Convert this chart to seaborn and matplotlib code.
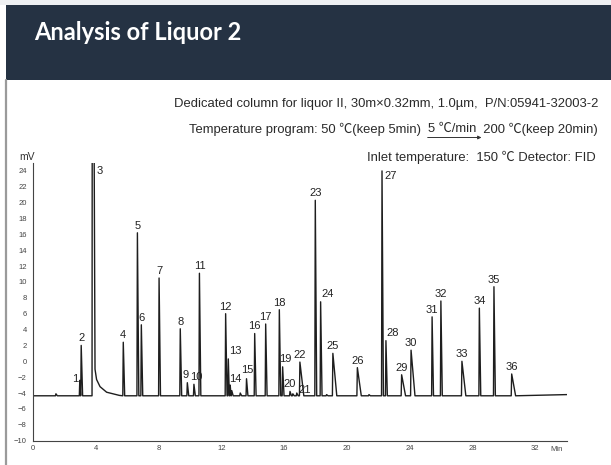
import numpy as np
import pandas as pd
import matplotlib
matplotlib.use("Agg")
import matplotlib.pyplot as plt
import seaborn as sns
from matplotlib.patches import Rectangle, FancyArrowPatch
from matplotlib.lines import Line2D

# ------------------------------------------------------------
# peak table (min, mV)
# ------------------------------------------------------------
peak_id = list(range(1, 37))
peak_time = [2.98, 3.07, 3.79, 5.75, 6.65, 6.90, 8.03, 9.38, 9.83, 10.25,
             10.60, 12.27, 12.44, 12.56, 13.60, 14.12, 14.82, 15.69, 15.90, 16.37,
             16.80, 17.00, 17.98, 18.32, 19.10, 20.66, 22.23, 22.48, 23.48, 24.08,
             25.42, 25.98, 27.32, 28.43, 29.36, 30.49]
peak_mv = [-2.4, 2.0, 80.0, 2.4, 16.2, 4.6, 10.5, 4.1, -2.7, -2.9,
           11.1, 6.0, 0.3, -3.0, -2.2, 3.5, 4.7, 6.5, -0.7, -3.8,
           -4.0, -0.1, 20.3, 7.5, 1.0, -0.8, 24.0, 2.6, -1.7, 1.4,
           5.6, 7.6, 0.0, 6.7, 9.4, -1.6]

# small unlabelled bumps
minor_time = [1.46, 12.66, 13.20, 16.55, 18.70, 21.40]
minor_mv = [-4.1, -3.7, -4.0, -4.1, -4.2, -4.2]

# solvent peak (3) tail
tail_time = [3.95, 4.05, 4.27, 4.69, 5.50]
tail_mv = [-1.0, -2.3, -3.2, -3.9, -4.3]

baseline_mv = -4.35
end_time, end_mv = 34.0, -4.2
broad_peaks = [22, 25, 26, 29, 30, 33, 36]

x_ticks = [0, 4, 8, 12, 16, 20, 24, 28, 32]
y_ticks = list(range(-10, 25, 2))

title = "Analysis of Liquor 2"
line1 = "Dedicated column for liquor II, 30m\u00d70.32mm, 1.0\u00b5m,  P/N:05941-32003-2"
line2_parts = ["Temperature program: 50 \u2103(keep 5min)  ", "5 \u2103/min", "  200 \u2103(keep 20min)"]
line3 = "Inlet temperature:  150 \u2103 Detector: FID"

# ------------------------------------------------------------
# assemble trace vertices from the peak table
# ------------------------------------------------------------
peaks = [(t, h, str(i)) for i, t, h in zip(peak_id, peak_time, peak_mv)]
peaks += [(t, h, "") for t, h in zip(minor_time, minor_mv)]
peaks.sort(key=lambda p: p[0])

pts = [(0.0, baseline_mv)]
for k, (t, h, name) in enumerate(peaks):
    lw = 0.03
    rw = 0.25 if name and int(name) in broad_peaks else 0.09
    if k + 1 < len(peaks):
        gap = peaks[k + 1][0] - t
        rw = min(rw, gap * 0.55)
    left = max(t - lw, pts[-1][0] + 0.005)
    pts.append((left, baseline_mv if left - pts[-1][0] > 0.01 else pts[-1][1]))
    pts.append((t, h))
    if name == "3":
        pts += list(zip(tail_time, tail_mv))
    else:
        pts.append((t + rw, baseline_mv))
pts.append((end_time, end_mv))

trace = pd.DataFrame(pts, columns=["time", "mV"])

# ------------------------------------------------------------
# figure
# ------------------------------------------------------------
sns.set_theme(style="white")
plt.rcParams["font.family"] = ["Liberation Sans", "Noto Sans CJK SC", "DejaVu Sans"]

W, H = 611, 465
fig = plt.figure(figsize=(W / 100, H / 100), dpi=100)
fig.patch.set_facecolor("white")

# header band and card edge
fig.patches.append(Rectangle((6 / W, 1 - 80 / H), 1, 75 / H, transform=fig.transFigure,
                             facecolor="#253243", edgecolor="none", zorder=0))
fig.patches.append(Rectangle((0, 1 - 5 / H), 1, 5 / H, transform=fig.transFigure,
                             facecolor="#eef0f2", edgecolor="none", zorder=0))
fig.add_artist(Line2D([5.5 / W, 5.5 / W], [0, 1 - 80 / H], transform=fig.transFigure,
                      color="#9a9a9a", lw=1.6))
fig.text(34 / W, 1 - 33 / H, title, color="white", fontsize=17, fontweight="bold",
         family=["Lato", "DejaVu Sans"], ha="left", va="center")

ax = fig.add_axes([33 / W, 1 - 440.6 / H, 533.8 / W, 277.6 / H])
sns.lineplot(data=trace, x="time", y="mV", sort=False, estimator=None,
             color="#1e1e1e", lw=1.0, ax=ax)

ax.set_xlim(0, 34)
ax.set_ylim(-10, 25)
ax.set_xticks(x_ticks)
ax.set_xticks(np.arange(2, 34, 4), minor=True)
ax.set_yticks(y_ticks)
ax.set_yticks(np.arange(-9, 25, 2), minor=True)
ax.set_xlabel("")
ax.set_ylabel("")
ax.tick_params(axis="both", which="major", labelsize=5.5, labelcolor="#444",
               length=3, width=0.6, color="#444", direction="out", pad=1.5)
ax.tick_params(axis="both", which="minor", length=2, width=0.6, color="#444",
               direction="out")
ax.tick_params(axis="x", which="both", direction="inout")
for side in ["top", "right"]:
    ax.spines[side].set_visible(False)
for side in ["left", "bottom"]:
    ax.spines[side].set_color("#444")
    ax.spines[side].set_linewidth(0.8)
ax.set_facecolor("white")

fig.text(27 / W, 1 - 157 / H, "mV", fontsize=7.5, color="#333", ha="center", va="center")
fig.text(557 / W, 1 - 449 / H, "Min", fontsize=5.5, color="#444", ha="center", va="center")

# peak labels (offsets in points)
nudge = {
    1: (-1, 1, "right", "center"),
    9: (-1.5, 2, "center", "bottom"),
    10: (2, 2, "center", "bottom"),
    13: (0.5, 2, "left", "bottom"),
    14: (3.5, 0.5, "center", "bottom"),
    15: (0.5, 3, "center", "bottom"),
    19: (2, 2, "center", "bottom"),
    21: (1.5, 2, "left", "center"),
    24: (0.5, 2, "left", "bottom"),
    27: (2, -4, "left", "center"),
    28: (0.5, 2, "left", "bottom"),
}
for i, t, h in zip(peak_id, peak_time, peak_mv):
    dx, dy, ha, va = nudge.get(i, (0, 1.5, "center", "bottom"))
    y = h
    if i == 3:
        t, y, dx, dy, ha, va = t + 0.1, 24.0, 1.5, 0, "left", "center"
    ax.annotate(str(i), xy=(t, y), xytext=(dx, dy), textcoords="offset points",
                ha=ha, va=va, fontsize=8, color="#222")

# conditions text
info_kw = dict(fontsize=9.4, color="#2a2a2a", va="center")
fig.text(598 / W, 1 - 104 / H, line1, ha="right", **info_kw)
fig.text(596 / W, 1 - 157 / H, line3, ha="right", **info_kw)

# line 2 is laid out piece by piece so the rate arrow sits under "5 C/min"
renderer = fig.canvas.get_renderer()
widths = []
for part in line2_parts:
    tmp = fig.text(0, 0, part, **info_kw)
    widths.append(tmp.get_window_extent(renderer).width)
    tmp.remove()
x_left = 598 - sum(widths)
x = x_left
for part, w in zip(line2_parts, widths):
    fig.text(x / W, 1 - 129 / H, part, ha="left", **info_kw)
    x += w
a0 = x_left + widths[0] - 3
a1 = x_left + widths[0] + widths[1] + 8
fig.add_artist(FancyArrowPatch((a0 / W, 1 - 137.5 / H), (a1 / W, 1 - 137.5 / H),
                               transform=fig.transFigure, arrowstyle="-|>",
                               mutation_scale=5, lw=0.7, color="#333"))

fig.savefig("out.png", dpi=100)
